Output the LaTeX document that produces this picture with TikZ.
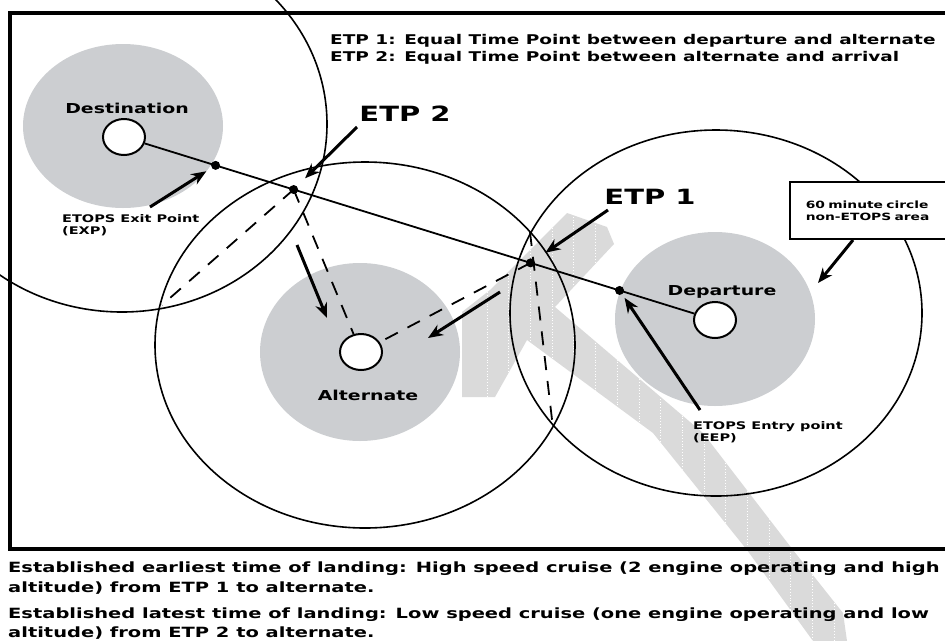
\documentclass[tikz,border=0pt]{standalone}
\usepackage{fontspec}
\newfontfamily\etopsfont[FakeStretch=1.38]{DejaVu Sans}
\usetikzlibrary{arrows.meta,shapes.geometric}
\definecolor{zonegrey}{RGB}{204,206,209}
\definecolor{markgrey}{RGB}{218,218,218}
\begin{document}
\begin{tikzpicture}[x=1pt, y=-1pt, font=\etopsfont\bfseries,
      ring/.style={line width=1.6pt},
      zone/.style={fill=zonegrey},
      airport/.style={ellipse, draw, line width=2pt, fill=white, minimum width=42pt, minimum height=36pt, inner sep=0pt},
      fix/.style={circle, fill=black, inner sep=0pt, minimum size=9pt},
      route/.style={line width=1.8pt},
      divert/.style={line width=1.8pt, dash pattern=on 14pt off 11pt},
      pointer/.style={line width=3pt, -{Stealth[length=15pt, width=12pt]}},
      place/.style={inner sep=0pt, font=\etopsfont\bfseries\fontsize{13.7}{16}\selectfont},
      bigtag/.style={inner sep=0pt, font=\etopsfont\bfseries\fontsize{21}{24}\selectfont},
      tag/.style={inner sep=0pt, anchor=base west, font=\etopsfont\bfseries\fontsize{10.5}{12}\selectfont},
      note/.style={inner sep=0pt, anchor=base west, font=\etopsfont\bfseries\fontsize{13.4}{16}\selectfont},
      caption/.style={inner sep=0pt, anchor=base west, font=\etopsfont\bfseries\fontsize{14.1}{16}\selectfont}]
    \useasboundingbox (0,0) rectangle (945,641);
    \clip (0,0) rectangle (945,641);
    \fill[zone] (123,126) ellipse [x radius=100, y radius=82];
    \fill[zone] (360,352) ellipse [x radius=100, y radius=89];
    \fill[zone] (715,319) ellipse [x radius=100, y radius=87];
    \begin{scope}
      \clip (567,213) -- (607,227) -- (614,244) -- (555,307) -- (703,433) -- (793,550)
        -- (843,613) -- (847,641) -- (813,641) -- (747,550) -- (653,433) -- (527,340)
        -- (495,397) -- (462,397) -- (462,312) -- (490,290) -- cycle;
      \fill[markgrey] (440,200) rectangle (860,641);
      \foreach \hx in {487,508.7,...,860}
        \draw[white, line width=0.8pt, dotted] (\hx,200) -- (\hx,641);
    \end{scope}
    \draw[ring] (122,124) ellipse [x radius=205, y radius=188];
    \draw[ring] (365,345) ellipse [x radius=210, y radius=183];
    \draw[ring] (716,313) ellipse [x radius=206, y radius=183];
    \draw[line width=3.5pt] (960,13) -- (10,13) -- (10,549) -- (960,549);
    \node[airport] (dest) at (124,137) {};
    \node[airport] (alt) at (361,352) {};
    \node[airport] (dep) at (715,320) {};
    \draw[route] (dest) -- (dep)
      node[fix, pos=0.129] (exp) {}
      node[fix, pos=0.271] (etp2) {}
      node[fix, pos=0.702] (etp1) {}
      node[fix, pos=0.864] (eep) {};
    \coordinate (lensW) at (162,305);
    \coordinate (lensN) at (530,232);
    \coordinate (lensS) at (553,428);
    \draw[divert] (etp2.center) -- (lensW);
    \draw[divert] (etp2.center) -- (alt);
    \draw[divert] (etp1.center) -- (alt);
    \draw[divert] (lensN) -- (lensS);
    \coordinate (slowfrom) at (297,245);
    \coordinate (slowto) at (327,318);
    \coordinate (fastfrom) at (500,292);
    \coordinate (fastto) at (428,338);
    \draw[pointer] (slowfrom) -- (slowto);
    \draw[pointer] (fastfrom) -- (fastto);
    \node[place, anchor=base] (desttag) at (127,113) {Destination};
    \node[place, anchor=base] (alttag) at (368,400) {Alternate};
    \node[place, anchor=base] (deptag) at (722,295) {Departure};
    \node[bigtag, anchor=base] (etp2tag) at (405,121) {ETP 2};
    \node[bigtag, anchor=base] (etp1tag) at (650,204) {ETP 1};
    \coordinate (etp2tail) at (357,127);
    \coordinate (etp1tail) at (608,210);
    \draw[pointer, shorten >=16pt] (etp2tail) -- (etp2.center);
    \draw[pointer, shorten >=18pt] (etp1tail) -- (etp1.center);
    \node[tag] (exptag) at (62,222) {ETOPS Exit Point};
    \node[tag] (expsub) at (62,234) {(EXP)};
    \coordinate (exptail) at (150,207);
    \draw[pointer, shorten >=11pt] (exptail) -- (exp.center);
    \node[tag] (eeptag) at (693,429) {ETOPS Entry point};
    \node[tag] (eepsub) at (693,441) {(EEP)};
    \coordinate (eeptail) at (700,410);
    \draw[pointer, shorten >=9pt] (eeptail) -- (eep.center);
    \node[draw, fill=white, line width=1.6pt, anchor=north west, minimum height=57pt,
      text width=140pt, align=left, inner xsep=16pt, font=\etopsfont\bfseries\fontsize{10}{12}\selectfont]
      (nonetops) at (789,181) {60 minute circle\\non-ETOPS area};
    \coordinate (boxtail) at (853,240);
    \coordinate (ringedge) at (818,283);
    \draw[pointer] (boxtail) -- (ringedge);
    \node[note] (legend1) at (330,44) {ETP 1: Equal Time Point between departure and alternate};
    \node[note] (legend2) at (330,61) {ETP 2: Equal Time Point between alternate and arrival};
    \node[caption] (fast1) at (8,572) {Established earliest time of landing: High speed cruise (2 engine operating and high};
    \node[caption] (fast2) at (8,592) {altitude) from ETP 1 to alternate.};
    \node[caption] (slow1) at (8,618) {Established latest time of landing: Low speed cruise (one engine operating and low};
    \node[caption] (slow2) at (8,637) {altitude) from ETP 2 to alternate.};
  \end{tikzpicture}
\end{document}
